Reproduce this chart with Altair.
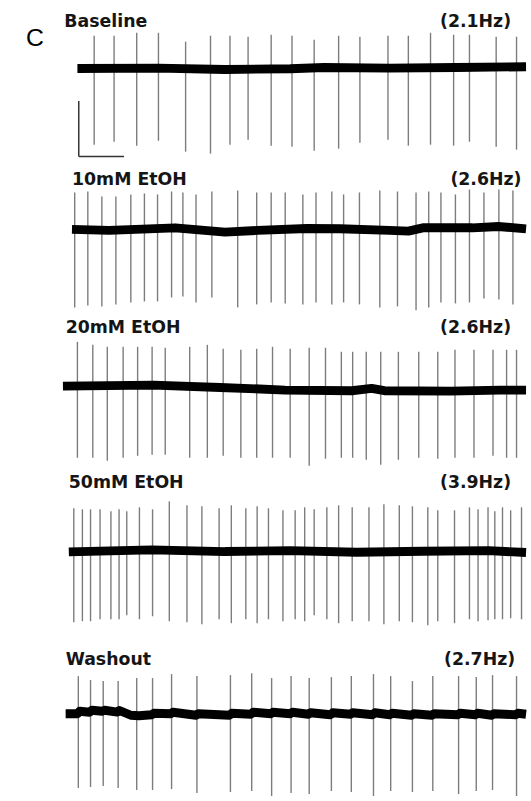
import altair as alt
import pandas as pd

# ---------------- data ----------------
conditions = ["Baseline", "10mM EtOH", "20mM EtOH", "50mM EtOH", "Washout"]
rates = ["(2.1Hz)", "(2.6Hz)", "(2.6Hz)", "(3.9Hz)", "(2.7Hz)"]

# spike times (s), upward peak and downward trough (units above/below baseline)
spike_t_1 = [0.81, 1.25, 1.75, 2.23, 2.83, 3.38, 3.81, 4.21, 4.72, 5.18, 5.67, 6.21, 6.68, 7.30, 7.75, 8.24, 8.75, 9.10, 9.69, 10.14]
spike_up_1 = [33, 33, 36, 36, 27, 33, 33, 32, 34, 33, 29, 33, 32, 33, 33, 36, 34, 34, 32, 32]
spike_dn_1 = [77, 74, 78, 73, 84, 86, 77, 72, 78, 79, 83, 81, 75, 72, 78, 77, 78, 74, 79, 82]

spike_t_2 = [0.38, 0.67, 0.98, 1.29, 1.62, 1.92, 2.21, 2.52, 2.77, 3.06, 3.41, 3.98, 4.40, 4.72, 5.03, 5.42, 5.71, 6.06, 6.32, 6.67, 7.12, 7.51, 7.92, 8.20, 8.47, 8.79, 9.10, 9.42, 9.75, 10.06]
spike_up_2 = [38, 39, 34, 34, 36, 37, 36, 39, 38, 36, 39, 40, 38, 38, 38, 36, 38, 39, 36, 38, 40, 39, 38, 39, 38, 36, 41, 38, 41, 40]
spike_dn_2 = [78, 76, 77, 75, 73, 72, 72, 68, 67, 73, 68, 78, 75, 73, 74, 75, 73, 75, 73, 75, 78, 77, 81, 78, 73, 74, 73, 69, 70, 75]

spike_t_3 = [0.44, 0.78, 1.10, 1.45, 1.77, 2.09, 2.38, 2.92, 3.31, 3.66, 4.05, 4.40, 4.75, 5.14, 5.56, 5.92, 6.27, 6.52, 6.82, 7.14, 7.53, 7.98, 8.40, 8.78, 9.20, 9.62, 9.92, 10.14]
spike_up_3 = [47, 44, 42, 42, 42, 42, 41, 42, 44, 40, 39, 40, 42, 40, 41, 41, 37, 37, 37, 37, 37, 37, 37, 39, 39, 39, 39, 39]
spike_dn_3 = [70, 70, 73, 70, 68, 67, 67, 70, 70, 68, 70, 70, 70, 70, 78, 71, 70, 70, 72, 77, 72, 70, 71, 70, 70, 68, 70, 70]

spike_t_4 = [0.36, 0.55, 0.73, 0.94, 1.18, 1.36, 1.53, 1.81, 2.10, 2.47, 2.86, 3.19, 3.57, 3.84, 4.16, 4.41, 4.66, 4.98, 5.25, 5.46, 5.67, 5.95, 6.21, 6.51, 6.88, 7.21, 7.55, 7.84, 8.18, 8.40, 8.77, 9.10, 9.29, 9.51, 9.66, 9.83, 10.01, 10.25]
spike_up_4 = [44, 43, 43, 43, 41, 43, 41, 45, 43, 51, 47, 46, 44, 47, 44, 46, 44, 42, 42, 45, 43, 45, 47, 45, 45, 48, 47, 46, 45, 42, 42, 45, 43, 45, 41, 45, 42, 45]
spike_dn_4 = [71, 70, 70, 68, 68, 68, 64, 68, 65, 70, 71, 73, 68, 72, 68, 72, 68, 70, 68, 70, 64, 68, 72, 70, 70, 73, 70, 71, 74, 70, 72, 68, 70, 69, 68, 68, 67, 68]

spike_t_5 = [0.46, 0.73, 1.01, 1.34, 1.75, 2.10, 2.52, 3.08, 3.82, 4.29, 4.73, 5.16, 5.56, 6.05, 6.49, 6.98, 7.36, 7.84, 8.29, 8.86, 9.25, 9.61, 10.14]
spike_up_5 = [38, 34, 33, 33, 36, 36, 40, 38, 39, 41, 36, 38, 36, 37, 38, 40, 38, 33, 38, 38, 37, 39, 38]
spike_dn_5 = [75, 74, 73, 75, 77, 77, 76, 80, 79, 78, 83, 80, 81, 78, 79, 83, 78, 79, 78, 81, 78, 77, 83]

# slow baseline drift of each trace (time s, level)
base_t_1 = [0.44, 2.23, 3.70, 5.14, 5.89, 7.33, 8.80, 10.35]
base_v_1 = [0, 0.3, -1, -0.3, 1, 0.3, 1, 1.7]
base_t_2 = [0.32, 1.14, 2.60, 3.70, 4.42, 5.51, 6.24, 7.33, 7.75, 8.07, 9.17, 9.74, 10.35]
base_v_2 = [0.7, -0.3, 2.3, -2, -0.3, 1.7, 1.3, -0.3, -1, 2.3, 2.3, 3.7, 1.3]
base_t_3 = [0.12, 2.12, 3.59, 5.03, 6.50, 6.94, 7.22, 8.69, 9.78, 10.35]
base_v_3 = [2.3, 3.3, 1, -1.7, -2.3, 0, -2.3, -2.7, -1.7, -1.7]
base_t_4 = [0.25, 2.08, 3.70, 5.14, 6.61, 8.07, 9.52, 10.35]
base_v_4 = [0, 2, 0.3, 1.3, -0.3, 0.7, 1.3, -0.7]
base_t_5 = [0.18, 0.44, 0.49, 0.71, 0.76, 0.99, 1.04, 1.32, 1.37, 1.62, 1.80, 2.08, 2.13, 2.50, 2.55,
            3.06, 3.11, 3.80, 3.85, 4.27, 4.32, 4.71, 4.76, 5.14, 5.19, 5.54, 5.59, 6.03, 6.08, 6.47,
            6.52, 6.96, 7.01, 7.34, 7.39, 7.82, 7.87, 8.27, 8.32, 8.84, 8.89, 9.23, 9.28, 9.59, 9.64,
            10.12, 10.17, 10.35]
base_v_5 = [0, 0, 2.5, 1.5, 3.5, 2.5, 3.5, 1.7, 3.3, -1.5, -2, -1, 0.5, 0, 1.5,
            -1.5, 0, -1.5, 0.5, -0.5, 1.5, 0, 1.5, 0, 1.5, -0.5, 1, -1, 1, -0.5,
            1, -1, 1, -1, 0.5, -1.5, 0, -1.5, 0, -1, 0.5, -1, 0.5, -1.5, 0,
            -1, 0.5, -0.5]

# scale bar (1 s horizontal, 56 units vertical)
scalebar_t0 = 0.47
scalebar_dt = 1.0
scalebar_top = -33
scalebar_amp = 56

spike_t = [spike_t_1, spike_t_2, spike_t_3, spike_t_4, spike_t_5]
spike_up = [spike_up_1, spike_up_2, spike_up_3, spike_up_4, spike_up_5]
spike_dn = [spike_dn_1, spike_dn_2, spike_dn_3, spike_dn_4, spike_dn_5]
base_t = [base_t_1, base_t_2, base_t_3, base_t_4, base_t_5]
base_v = [base_v_1, base_v_2, base_v_3, base_v_4, base_v_5]

# ---------------- layout ----------------
W = 531
heights = [160, 150, 160, 160, 171]
y_domains = [[-94.7, 65.3], [-81.5, 68.5], [-82.7, 77.3], [-77.7, 82.3], [-85.3, 85.7]]
x_domain = [-1.27, 10.35]
label_t = [0.15, 0.32, 0.18, 0.25, 0.18]
label_y = [42.3, 45.5, 56.3, 64.3, 49.7]
rate_t = [10.02, 10.25, 10.02, 10.02, 10.11]

FONT = "DejaVu Sans"

panels = []
for i in range(5):
    xs = alt.Scale(domain=x_domain, nice=False, zero=False)
    ys = alt.Scale(domain=y_domains[i], nice=False, zero=False)

    df_base = pd.DataFrame({"t": base_t[i], "v": base_v[i]})
    df_sp = pd.DataFrame({"t": spike_t[i], "up": spike_up[i],
                          "dn": [-d for d in spike_dn[i]]})
    df_lab = pd.DataFrame({"t": [label_t[i]], "v": [label_y[i]], "txt": [conditions[i]]})
    df_rate = pd.DataFrame({"t": [rate_t[i]], "v": [label_y[i]], "txt": [rates[i]]})

    spikes = alt.Chart(df_sp).mark_rule(color="#7c7c7c", strokeWidth=1.4).encode(
        x=alt.X("t:Q", scale=xs, axis=None),
        y=alt.Y("dn:Q", scale=ys, axis=None),
        y2="up:Q",
    )
    trace = alt.Chart(df_base).mark_line(color="#000000", strokeWidth=9,
                                          strokeJoin="round", strokeCap="butt").encode(
        x=alt.X("t:Q", scale=xs, axis=None),
        y=alt.Y("v:Q", scale=ys, axis=None),
    )
    lab = alt.Chart(df_lab).mark_text(align="left", baseline="alphabetic", font=FONT,
                                      fontWeight="bold", fontSize=17.5, color="#151515").encode(
        x=alt.X("t:Q", scale=xs, axis=None),
        y=alt.Y("v:Q", scale=ys, axis=None),
        text="txt:N",
    )
    rate = alt.Chart(df_rate).mark_text(align="right", baseline="alphabetic", font=FONT,
                                        fontWeight="bold", fontSize=17.5, color="#151515").encode(
        x=alt.X("t:Q", scale=xs, axis=None),
        y=alt.Y("v:Q", scale=ys, axis=None),
        text="txt:N",
    )
    layers = [spikes, trace, lab, rate]

    if i == 0:
        df_bar = pd.DataFrame({
            "t": [scalebar_t0, scalebar_t0],
            "t2": [scalebar_t0, scalebar_t0 + scalebar_dt],
            "v": [scalebar_top, scalebar_top - scalebar_amp],
            "v2": [scalebar_top - scalebar_amp, scalebar_top - scalebar_amp],
        })
        bar = alt.Chart(df_bar).mark_rule(color="#333333", strokeWidth=1.5).encode(
            x=alt.X("t:Q", scale=xs, axis=None), x2="t2:Q",
            y=alt.Y("v:Q", scale=ys, axis=None), y2="v2:Q",
        )
        df_c = pd.DataFrame({"t": [-0.50], "v": [30.3], "txt": ["C"]})
        letter = alt.Chart(df_c).mark_text(align="center", baseline="middle",
                                           font="Liberation Sans", fontSize=25,
                                           color="#000000").encode(
            x=alt.X("t:Q", scale=xs, axis=None),
            y=alt.Y("v:Q", scale=ys, axis=None),
            text="txt:N",
        )
        layers += [bar, letter]

    panels.append(alt.layer(*layers).properties(width=W, height=heights[i]))

chart = alt.vconcat(*panels, spacing=0).properties(
    padding=0, background="white"
).configure_view(stroke=None)

chart.save("out.html", embed_options={"renderer": "svg", "actions": False})
